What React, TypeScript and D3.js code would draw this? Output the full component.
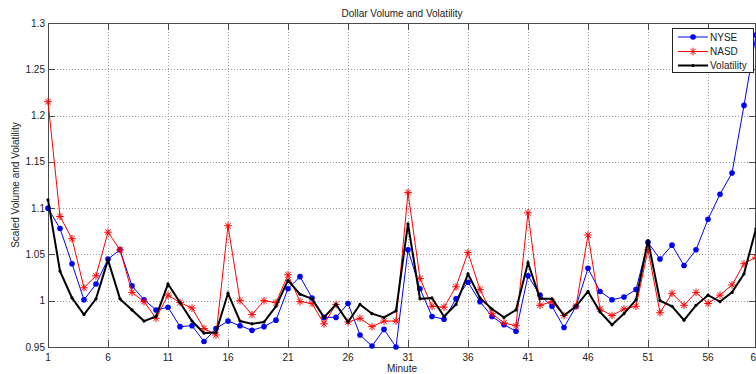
import React from "react";
import * as d3 from "d3";

const title = "Dollar Volume and Volatility";
const xLabel = "Minute";
const yLabel = "Scaled Volume and Volatility";
const xTicks = [1, 6, 11, 16, 21, 26, 31, 36, 41, 46, 51, 56, 60];
const yTicks = [0.95, 1, 1.05, 1.1, 1.15, 1.2, 1.25, 1.3];
const yTickLabels = ["0.95", "1", "1.05", "1.1", "1.15", "1.2", "1.25", "1.3"];

const nyse = [
  1.100, 1.078, 1.040, 1.001, 1.018, 1.045, 1.055, 1.016, 1.001, 0.990,
  0.993, 0.972, 0.973, 0.956, 0.970, 0.978, 0.973, 0.968, 0.972, 0.979,
  1.013, 1.026, 1.003, 0.982, 0.982, 0.997, 0.963, 0.951, 0.969, 0.950,
  1.055, 1.013, 0.983, 0.980, 1.002, 1.020, 0.999, 0.983, 0.974, 0.967,
  1.027, 1.006, 0.994, 0.971, 0.994, 1.035, 1.010, 1.001, 1.004, 1.012,
  1.063, 1.045, 1.060, 1.038, 1.055, 1.088, 1.115, 1.138, 1.211, 1.287,
];
const nasd = [
  1.215, 1.091, 1.067, 1.014, 1.027, 1.074, 1.055, 1.009, 0.999, 0.981,
  1.006, 0.998, 0.992, 0.970, 0.963, 1.081, 1.000, 0.985, 1.000, 0.998,
  1.028, 0.999, 0.997, 0.975, 0.996, 0.977, 0.981, 0.972, 0.978, 0.978,
  1.117, 1.024, 0.994, 0.993, 1.015, 1.052, 1.012, 0.986, 0.976, 0.973,
  1.095, 0.995, 0.999, 0.984, 0.994, 1.071, 0.991, 0.984, 0.991, 0.994,
  1.055, 0.987, 1.008, 0.995, 1.009, 0.997, 1.006, 1.017, 1.040, 1.047,
];
const volatility = [
  1.109, 1.032, 1.003, 0.985, 1.002, 1.044, 1.002, 0.990, 0.978, 0.983,
  1.018, 0.998, 0.978, 0.965, 0.966, 1.008, 0.978, 0.975, 0.977, 0.994,
  1.022, 1.007, 1.002, 0.982, 0.996, 0.977, 0.996, 0.986, 0.982, 0.989,
  1.083, 1.002, 1.003, 0.983, 0.996, 1.029, 1.003, 0.991, 0.982, 0.990,
  1.041, 1.002, 1.002, 0.984, 0.994, 1.010, 0.988, 0.974, 0.986, 1.001,
  1.065, 1.000, 0.994, 0.979, 0.995, 1.006, 0.999, 1.009, 1.029, 1.078,
];
const seriesNames = ["NYSE", "NASD", "Volatility"];

const W = 756, H = 374;
const L = 48, R = 756, T = 23, B = 347;
const FONT = "'Liberation Sans', Arial, Helvetica, sans-serif";

function Star({ x, y, r, color }: { x: number; y: number; r: number; color: string }) {
  const d = r * 0.72;
  return (
    <g stroke={color} strokeWidth={1}>
      <line x1={x - r} y1={y} x2={x + r} y2={y} />
      <line x1={x} y1={y - r} x2={x} y2={y + r} />
      <line x1={x - d} y1={y - d} x2={x + d} y2={y + d} />
      <line x1={x - d} y1={y + d} x2={x + d} y2={y - d} />
    </g>
  );
}

export default function App() {
  const x = d3.scaleLinear().domain([1, 60]).range([L, R]);
  const y = d3.scaleLinear().domain([0.95, 1.3]).range([B, T]);
  const line = d3
    .line<number>()
    .x((_, i) => x(i + 1))
    .y((v) => y(v));

  const tickLen = 7;
  const legX = 672, legY = 28, legW = 81, legH = 44;
  const legRows = [37, 51.5, 65.5];

  return (
    <div style={{ position: "absolute", left: 0, top: 0 }}>
      <svg width={W} height={H} style={{ display: "block", background: "#fff" }} fontFamily={FONT}>
        <rect x={0} y={0} width={W} height={H} fill="#fff" />
        {/* grid */}
        <g stroke="#9a9a9a" strokeWidth={1} strokeDasharray="1,2">
          {xTicks.map((t) => (
            <line key={"gx" + t} x1={x(t) + 0.5} x2={x(t) + 0.5} y1={T} y2={B} />
          ))}
          {yTicks.map((t) => (
            <line key={"gy" + t} x1={L} x2={R} y1={Math.round(y(t)) + 0.5} y2={Math.round(y(t)) + 0.5} />
          ))}
        </g>
        {/* axes box + ticks */}
        <g stroke="#4a4a4a" strokeWidth={1}>
          <rect x={L + 0.5} y={T + 0.5} width={R - L - 1} height={B - T} fill="none" />
          {xTicks.map((t) => (
            <g key={"tx" + t}>
              <line x1={x(t) + 0.5} x2={x(t) + 0.5} y1={B} y2={B - tickLen} />
              <line x1={x(t) + 0.5} x2={x(t) + 0.5} y1={T} y2={T + tickLen} />
            </g>
          ))}
          {yTicks.map((t) => (
            <g key={"ty" + t}>
              <line x1={L} x2={L + tickLen} y1={Math.round(y(t)) + 0.5} y2={Math.round(y(t)) + 0.5} />
              <line x1={R - tickLen} x2={R} y1={Math.round(y(t)) + 0.5} y2={Math.round(y(t)) + 0.5} />
            </g>
          ))}
        </g>
        {/* tick labels */}
        <g fontSize={10} fill="#222">
          {xTicks.map((t) => (
            <text key={"lx" + t} x={x(t)} y={361} textAnchor="middle">
              {t}
            </text>
          ))}
          {yTicks.map((t, i) => (
            <text key={"ly" + t} x={45} y={y(t) + 3.5} textAnchor="end">
              {yTickLabels[i]}
            </text>
          ))}
        </g>
        {/* titles */}
        <text x={(L + R) / 2} y={17} textAnchor="middle" fontSize={10} fill="#222">
          {title}
        </text>
        <text x={(L + R) / 2} y={372} textAnchor="middle" fontSize={10} fill="#222">
          {xLabel}
        </text>
        <text
          transform={`translate(19,${(T + B) / 2}) rotate(-90)`}
          textAnchor="middle"
          fontSize={10}
          fill="#222"
        >
          {yLabel}
        </text>

        {/* NYSE */}
        <path d={line(nyse) || ""} fill="none" stroke="#0000ff" strokeWidth={1} />
        {nyse.map((v, i) => (
          <circle key={"n" + i} cx={x(i + 1)} cy={y(v)} r={2.8} fill="#0000ff" />
        ))}
        {/* NASD */}
        <path d={line(nasd) || ""} fill="none" stroke="#ff0000" strokeWidth={1} />
        {nasd.map((v, i) => (
          <Star key={"s" + i} x={x(i + 1)} y={y(v)} r={3.8} color="#ff0000" />
        ))}
        {/* Volatility */}
        <path d={line(volatility) || ""} fill="none" stroke="#000" strokeWidth={2} strokeLinejoin="miter" />
        {volatility.map((v, i) => (
          <circle key={"v" + i} cx={x(i + 1)} cy={y(v)} r={1.6} fill="#000" />
        ))}

        {/* legend */}
        <rect x={legX + 0.5} y={legY + 0.5} width={legW} height={legH} fill="#fff" stroke="#222" strokeWidth={1} />
        <g fontSize={10} fill="#222">
          <line x1={678} x2={708} y1={legRows[0]} y2={legRows[0]} stroke="#0000ff" strokeWidth={1} />
          <circle cx={693} cy={legRows[0]} r={2.8} fill="#0000ff" />
          <text x={710} y={legRows[0] + 3.5}>{seriesNames[0]}</text>

          <line x1={678} x2={708} y1={legRows[1]} y2={legRows[1]} stroke="#ff0000" strokeWidth={1} />
          <Star x={693} y={legRows[1]} r={3.8} color="#ff0000" />
          <text x={710} y={legRows[1] + 3.5}>{seriesNames[1]}</text>

          <line x1={678} x2={708} y1={legRows[2]} y2={legRows[2]} stroke="#000" strokeWidth={2} />
          <circle cx={693} cy={legRows[2]} r={1.6} fill="#000" />
          <text x={710} y={legRows[2] + 3.5}>{seriesNames[2]}</text>
        </g>
      </svg>
    </div>
  );
}
